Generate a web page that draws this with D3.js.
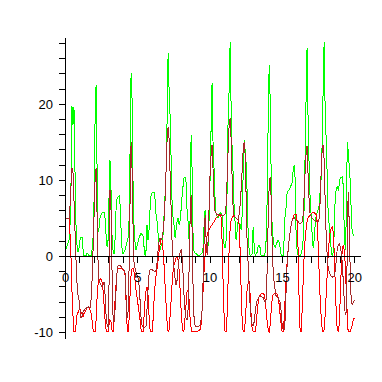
<!DOCTYPE html>
<html><head><meta charset="utf-8">
<script src="https://cdn.jsdelivr.net/npm/d3@7"></script>
<style>html,body{margin:0;padding:0;background:#fff;}svg{display:block;}</style>
</head><body>
<svg id="chart" width="382" height="382"></svg>
<script>
// [time, value] pairs
const greenSeries = [[0,0.5],[0.14,1.3],[0.28,2.1],[0.35,4.1],[0.42,10.0],[0.48,19.7],[0.55,17.2],[0.62,19.6],[0.69,11.3],[0.76,4.1],[0.83,1.4],[0.90,0.5],[0.97,1.1],[1.04,2.1],[1.11,2.5],[1.18,2.4],[1.25,0.8],[1.31,0],[1.45,0],[1.52,0.3],[1.59,0.3],[1.66,0],[1.80,0],[1.87,0.8],[1.94,2.4],[2.01,7.4],[2.08,17.9],[2.15,22.5],[2.21,12.6],[2.28,3.2],[2.35,3.7],[2.42,5.0],[2.56,5.7],[2.70,5.7],[2.77,5.0],[2.84,2.8],[2.91,1.2],[2.98,2.1],[3.04,7.4],[3.11,12.6],[3.18,8.7],[3.25,2.8],[3.32,0.8],[3.39,0.3],[3.46,2.1],[3.53,6.1],[3.60,7.6],[3.74,7.9],[3.81,6.7],[3.88,3.4],[3.94,1.1],[4.01,0.3],[4.15,0.8],[4.29,1.8],[4.36,2.4],[4.43,4.7],[4.50,13.9],[4.57,24.1],[4.64,20.5],[4.71,8.7],[4.77,4.1],[4.84,1.8],[4.91,0.8],[4.98,1.3],[5.12,2.4],[5.26,3.0],[5.40,2.6],[5.47,1.1],[5.54,0],[5.61,0.8],[5.67,4.1],[5.74,2.1],[5.81,3.4],[5.88,6.1],[5.95,7.9],[6.02,8.3],[6.16,8.3],[6.23,7.4],[6.30,5.4],[6.37,4.5],[6.44,2.8],[6.50,1.4],[6.57,0.8],[6.64,1.3],[6.71,1.7],[6.78,2.8],[6.85,5.4],[6.92,8.0],[6.99,11.3],[7.06,17.9],[7.13,26.7],[7.20,21.8],[7.27,18.2],[7.34,12.6],[7.40,7.4],[7.47,5.1],[7.54,4.1],[7.61,2.4],[7.68,3.4],[7.75,4.5],[7.82,5.0],[7.89,4.1],[7.96,4.7],[8.03,6.1],[8.10,8.0],[8.17,9.3],[8.23,10.3],[8.30,10.3],[8.37,9.7],[8.44,6.1],[8.51,4.5],[8.58,2.1],[8.65,4.7],[8.72,15.9],[8.79,11.3],[8.86,2.1],[8.93,0.5],[9.07,0.3],[9.20,0],[9.34,0.1],[9.48,0.4],[9.55,1.1],[9.62,4.1],[9.69,6.1],[9.76,2.1],[9.83,0.8],[9.90,1.4],[9.96,4.7],[10.03,10.0],[10.10,16.6],[10.17,22.8],[10.24,14.6],[10.31,11.3],[10.38,7.4],[10.45,5.4],[10.59,5.0],[10.73,5.7],[10.86,5.4],[10.93,3.7],[11.00,1.4],[11.07,1.1],[11.14,2.1],[11.21,8.7],[11.28,18.2],[11.35,21.8],[11.42,28.2],[11.49,19.2],[11.56,13.9],[11.63,10.7],[11.69,6.7],[11.76,4.5],[11.83,2.1],[11.90,3.2],[11.97,4.5],[12.11,4.1],[12.18,3.4],[12.25,5.4],[12.32,10.7],[12.39,15.3],[12.46,13.9],[12.53,12.0],[12.59,8.7],[12.66,3.4],[12.73,0.8],[12.80,0],[12.94,0.3],[13.01,3.8],[13.08,1.4],[13.15,0],[13.29,0.5],[13.36,1.3],[13.42,1.4],[13.49,1.1],[13.56,0],[13.77,0],[13.84,0.5],[13.91,2.1],[13.98,7.4],[14.05,17.9],[14.12,25.1],[14.19,20.5],[14.26,10.0],[14.32,4.1],[14.39,2.4],[14.46,1.4],[14.53,1.1],[14.67,1.8],[14.74,2.1],[14.81,1.8],[14.88,1.1],[14.95,0.1],[15.09,0],[15.15,2.1],[15.22,5.4],[15.29,6.4],[15.36,8.4],[15.50,8.7],[15.64,9.3],[15.71,9.6],[15.78,11.3],[15.85,12.0],[15.92,10.0],[15.98,2.8],[16.05,0.8],[16.12,0.1],[16.26,0],[16.33,0.3],[16.40,0.8],[16.47,2.1],[16.54,6.7],[16.61,13.9],[16.68,21.8],[16.74,27.4],[16.81,17.9],[16.88,12.0],[16.95,7.6],[17.02,5.4],[17.09,2.8],[17.16,1.1],[17.23,2.1],[17.30,4.1],[17.37,5.4],[17.51,6.1],[17.58,6.7],[17.65,8.7],[17.72,10.3],[17.78,14.6],[17.85,21.8],[17.92,28.2],[17.99,19.2],[18.06,15.3],[18.13,10.7],[18.20,5.4],[18.27,4.1],[18.34,2.8],[18.41,0.8],[18.48,0],[18.55,0.5],[18.61,2.8],[18.68,7.4],[18.75,8.7],[18.82,9.1],[18.89,8.7],[18.96,9.3],[19.03,10.3],[19.17,10.4],[19.24,9.3],[19.31,3.4],[19.38,0.8],[19.45,4.7],[19.52,15.0],[19.58,13.9],[19.65,12.0],[19.72,10.0],[19.79,6.1],[19.86,3.0],[20.00,2.6]];

const redSeries = [[0,4.9],[0.28,4.9],[0.35,2.8],[0.42,-0.5],[0.48,-4.5],[0.55,-7.8],[0.62,-10.0],[0.69,-10.0],[0.76,-9.1],[0.83,-7.8],[0.97,-7.1],[1.04,-7.0],[1.11,-7.4],[1.25,-8.0],[1.31,-7.6],[1.45,-7.1],[1.59,-6.7],[1.66,-6.7],[1.73,-7.1],[1.80,-7.5],[1.87,-8.4],[1.94,-9.7],[2.01,-10.0],[2.08,-10.0],[2.15,-8.4],[2.21,-5.8],[2.28,-3.8],[2.35,-3.2],[2.49,-3.0],[2.56,-3.4],[2.63,-4.5],[2.70,-6.4],[2.77,-8.4],[2.84,-9.7],[2.91,-10.0],[2.98,-10.0],[3.04,-9.1],[3.11,-8.4],[3.18,-8.7],[3.25,-9.7],[3.32,-10.0],[3.39,-8.4],[3.46,-5.8],[3.53,-3.8],[3.60,-2.1],[3.67,-1.6],[3.81,-1.6],[3.94,-1.7],[4.08,-2.0],[4.15,-2.5],[4.22,-5.8],[4.29,-9.1],[4.36,-10.0],[4.43,-8.4],[4.50,-5.1],[4.57,-2.5],[4.64,-1.6],[4.71,-1.6],[4.77,-2.1],[4.84,-3.2],[4.91,-4.5],[5.05,-6.4],[5.19,-8.4],[5.26,-9.7],[5.33,-10.0],[5.40,-10.0],[5.47,-7.8],[5.54,-5.8],[5.61,-4.5],[5.67,-4.1],[5.74,-5.1],[5.81,-7.8],[5.88,-9.7],[5.95,-10.0],[6.02,-10.0],[6.09,-8.4],[6.16,-5.8],[6.23,-3.8],[6.30,-2.5],[6.37,-1.6],[6.44,-0.5],[6.50,0.5],[6.57,1.4],[6.64,2.1],[6.71,2.1],[6.78,0.8],[6.85,-1.2],[6.92,-3.8],[6.99,-6.4],[7.06,-8.7],[7.13,-10.0],[7.20,-9.7],[7.27,-7.8],[7.34,-5.8],[7.40,-3.8],[7.47,-2.1],[7.54,-1.2],[7.61,-0.8],[7.68,-0.3],[7.75,-0.1],[7.82,-0.5],[7.89,-1.8],[7.96,-4.5],[8.03,-7.1],[8.10,-9.1],[8.17,-10.0],[8.23,-9.7],[8.30,-8.2],[8.37,-6.4],[8.44,-4.7],[8.51,-4.5],[8.58,-5.8],[8.65,-8.2],[8.72,-9.5],[8.79,-10.0],[9.07,-10.0],[9.20,-9.9],[9.34,-9.7],[9.41,-9.1],[9.48,-7.1],[9.55,-4.5],[9.62,-1.8],[9.69,0.1],[9.76,1.8],[9.83,2.8],[9.90,3.2],[10.03,3.7],[10.17,4.1],[10.31,4.5],[10.45,5.0],[10.59,5.3],[10.73,5.4],[10.80,5.0],[10.86,2.1],[10.93,-3.2],[11.00,-7.8],[11.07,-10.0],[11.14,-10.0],[11.21,-7.8],[11.28,-3.2],[11.35,0.8],[11.42,3.7],[11.49,4.7],[11.56,5.1],[11.69,5.3],[11.83,5.0],[11.97,4.7],[12.04,4.1],[12.11,0.8],[12.18,-4.5],[12.25,-8.4],[12.32,-10.0],[12.39,-10.0],[12.46,-8.7],[12.53,-6.4],[12.59,-4.5],[12.66,-3.6],[12.73,-3.4],[12.80,-5.1],[12.87,-7.8],[12.94,-9.5],[13.01,-10.0],[13.15,-10.0],[13.22,-9.1],[13.29,-7.4],[13.36,-6.1],[13.42,-5.4],[13.56,-5.0],[13.70,-4.9],[13.77,-5.1],[13.84,-5.8],[13.91,-7.1],[13.98,-8.7],[14.05,-9.7],[14.12,-10.0],[14.19,-9.1],[14.26,-7.1],[14.32,-5.8],[14.39,-5.1],[14.53,-4.9],[14.67,-5.0],[14.74,-5.5],[14.81,-6.4],[14.88,-7.8],[14.95,-9.1],[15.02,-10.0],[15.09,-10.0],[15.15,-8.4],[15.22,-5.8],[15.29,-3.2],[15.36,-0.8],[15.43,0.8],[15.50,2.1],[15.57,3.2],[15.64,4.1],[15.71,4.7],[15.85,5.4],[15.98,5.4],[16.05,4.7],[16.12,0.8],[16.19,-5.8],[16.26,-10.0],[16.33,-10.0],[16.40,-7.1],[16.47,-3.2],[16.54,0.1],[16.61,2.4],[16.68,3.7],[16.74,4.5],[16.81,5.0],[16.95,5.4],[17.09,5.7],[17.23,5.7],[17.37,5.4],[17.44,4.5],[17.51,1.4],[17.58,-2.5],[17.65,-5.8],[17.72,-8.2],[17.78,-9.5],[17.85,-10.0],[17.92,-9.7],[17.99,-7.8],[18.06,-5.1],[18.13,-2.5],[18.20,0.1],[18.27,2.1],[18.34,3.2],[18.41,3.7],[18.48,3.8],[18.55,3.2],[18.61,0.8],[18.68,-3.2],[18.75,-7.1],[18.82,-9.5],[18.89,-10.0],[18.96,-9.1],[19.03,-5.8],[19.10,-1.8],[19.17,0.8],[19.24,1.4],[19.31,0.8],[19.38,-1.2],[19.45,-4.5],[19.52,-7.8],[19.58,-10.0],[19.72,-10.0],[19.79,-9.5],[19.86,-9.1],[19.93,-8.4],[20.00,-8.2]];

const brownSeries = [[0,4.9],[0.28,4.9],[0.35,6.7],[0.42,9.3],[0.48,11.6],[0.55,11.1],[0.62,7.4],[0.69,3.4],[0.76,-0.5],[0.83,-3.6],[0.90,-5.1],[0.97,-5.8],[1.04,-7.1],[1.11,-8.2],[1.18,-7.9],[1.25,-7.4],[1.38,-7.0],[1.52,-6.8],[1.66,-6.7],[1.73,-6.8],[1.80,-5.8],[1.87,-3.2],[1.94,0.8],[2.01,5.4],[2.08,10.0],[2.15,11.6],[2.21,6.1],[2.28,-0.5],[2.35,-3.2],[2.42,-3.6],[2.56,-4.1],[2.63,-3.8],[2.70,-3.4],[2.77,-5.1],[2.84,-7.8],[2.91,-9.1],[2.98,-9.3],[3.04,-4.5],[3.11,8.7],[3.18,6.1],[3.25,-1.8],[3.32,-7.8],[3.39,-8.7],[3.46,-7.1],[3.53,-4.5],[3.60,-2.1],[3.67,-1.3],[3.81,-1.2],[3.94,-1.6],[4.08,-1.8],[4.15,-2.2],[4.22,-5.1],[4.29,-8.2],[4.36,-7.4],[4.43,-1.8],[4.50,7.4],[4.57,15.0],[4.64,11.3],[4.71,3.4],[4.77,-0.8],[4.84,-1.6],[4.91,-2.1],[5.05,-2.9],[5.12,-3.8],[5.19,-5.8],[5.26,-8.2],[5.33,-9.2],[5.47,-9.5],[5.61,-9.2],[5.67,-7.1],[5.74,-4.5],[5.81,-2.5],[5.88,-1.8],[6.02,-1.8],[6.23,-2.1],[6.30,-1.8],[6.37,-0.8],[6.44,0.8],[6.50,1.8],[6.57,2.4],[6.64,2.1],[6.71,2.4],[6.78,3.2],[6.85,4.7],[6.92,7.4],[6.99,11.3],[7.06,15.3],[7.13,17.0],[7.20,15.3],[7.27,10.7],[7.34,6.1],[7.40,2.1],[7.47,0],[7.54,-1.6],[7.61,-2.9],[7.68,-3.8],[7.75,-3.2],[7.82,-1.6],[7.89,-0.3],[7.96,0.5],[8.03,0.8],[8.10,-0.3],[8.17,-2.5],[8.23,-5.1],[8.30,-7.1],[8.37,-8.2],[8.44,-8.4],[8.51,-7.1],[8.58,-1.8],[8.65,4.7],[8.72,8.0],[8.79,3.4],[8.86,-4.5],[8.93,-8.4],[9.00,-9.2],[9.13,-9.3],[9.27,-9.2],[9.34,-9.1],[9.41,-8.4],[9.48,-7.1],[9.55,-3.2],[9.62,2.1],[9.69,5.4],[9.76,2.1],[9.83,0.1],[9.90,2.1],[9.96,6.1],[10.03,10.7],[10.10,13.3],[10.17,14.6],[10.24,11.3],[10.31,7.4],[10.38,5.8],[10.52,5.4],[10.66,5.5],[10.80,5.4],[10.93,5.3],[11.07,5.5],[11.14,6.7],[11.21,10.0],[11.28,13.9],[11.35,17.2],[11.42,18.2],[11.49,15.3],[11.56,10.0],[11.63,6.1],[11.69,5.3],[11.83,5.0],[11.97,4.7],[12.04,5.4],[12.11,6.7],[12.18,8.7],[12.25,11.3],[12.32,13.9],[12.39,15.0],[12.46,13.3],[12.53,7.4],[12.59,2.1],[12.66,-0.8],[12.73,-3.8],[12.80,-6.4],[12.87,-8.2],[12.94,-9.1],[13.01,-9.2],[13.08,-8.7],[13.15,-7.4],[13.22,-6.4],[13.29,-5.8],[13.42,-5.4],[13.56,-5.3],[13.70,-5.5],[13.84,-6.1],[13.91,-5.8],[13.98,-1.8],[14.05,4.7],[14.12,9.3],[14.19,10.4],[14.26,7.4],[14.32,2.1],[14.39,-1.8],[14.46,-3.4],[14.53,-4.5],[14.60,-5.3],[14.74,-5.5],[14.88,-6.1],[14.95,-7.4],[15.02,-9.1],[15.09,-9.7],[15.15,-9.7],[15.22,-8.4],[15.29,-4.5],[15.36,-1.2],[15.43,0.8],[15.50,2.1],[15.57,3.2],[15.64,4.1],[15.71,4.7],[15.85,5.0],[15.98,4.7],[16.12,4.5],[16.26,4.2],[16.40,4.5],[16.47,5.4],[16.54,8.0],[16.61,11.3],[16.68,13.7],[16.74,14.5],[16.81,10.7],[16.88,7.4],[16.95,5.4],[17.09,5.0],[17.23,4.7],[17.37,4.5],[17.51,4.5],[17.58,5.0],[17.65,7.4],[17.72,11.3],[17.78,13.9],[17.85,14.6],[17.92,12.6],[17.99,7.4],[18.06,2.8],[18.13,0.1],[18.20,-1.6],[18.34,-2.5],[18.48,-2.8],[18.61,-2.6],[18.68,-2.1],[18.75,-0.8],[18.82,0.8],[18.89,1.4],[18.96,1.6],[19.03,1.3],[19.10,0.5],[19.17,-0.8],[19.24,-3.2],[19.31,-5.8],[19.38,-7.8],[19.45,-7.4],[19.52,0.8],[19.58,8.4],[19.65,4.7],[19.72,-1.8],[19.79,-5.8],[19.86,-6.4],[19.93,-6.2],[20.00,-5.8]];

const xTicks = [0,1,2,3,4,5,6,7,8,9,10,11,12,13,14,15,16,17,18,19,20];
const xTickLabels = [0,5,10,15,20];
const yTicks = [-10,-8,-6,-4,-2,0,2,4,6,8,10,12,14,16,18,20,22,24,26,28];
const yTickLabels = [-10,0,10,20];

const seriesList = [
  {data: greenSeries, color: "#00ff00"},
  {data: redSeries, color: "#ff0000"},
  {data: brownSeries, color: "#a52a2a"}
];

const svg = d3.select("#chart");
const x = d3.scaleLinear().domain([0, 20.4]).range([65, 360]);
const y = d3.scaleLinear().domain([-10.8, 28.8]).range([338, 37]);

const line = d3.line().x(d => x(d[0])).y(d => y(d[1]));

svg.append("g").selectAll("path").data(seriesList).join("path")
  .attr("d", s => line(s.data))
  .attr("fill", "none")
  .attr("stroke", s => s.color)
  .attr("stroke-width", 1)
  .attr("shape-rendering", "crispEdges");

const fontFamily = "'Liberation Sans', Arial, sans-serif";

const xAxis = d3.axisBottom(x).tickValues(xTicks).tickSize(7).tickSizeOuter(0).tickPadding(10)
  .tickFormat(d => xTickLabels.includes(d) ? String(d) : "");
const gx = svg.append("g").attr("transform", `translate(0,${y(0)})`).call(xAxis);

const yAxis = d3.axisLeft(y).tickValues(yTicks).tickSize(6).tickSizeOuter(0).tickPadding(6)
  .tickFormat(d => yTickLabels.includes(d) ? String(d) : "");
const gy = svg.append("g").attr("transform", `translate(${x(0)},0)`).call(yAxis);

[gx, gy].forEach(g => {
  g.selectAll("path.domain").attr("stroke", "#000").attr("shape-rendering", "crispEdges");
  g.selectAll(".tick line").attr("stroke", "#000").attr("shape-rendering", "crispEdges");
  g.selectAll("text").attr("fill", "#000").style("font-family", fontFamily).style("font-size", "13px");
});
</script>
</body></html>
